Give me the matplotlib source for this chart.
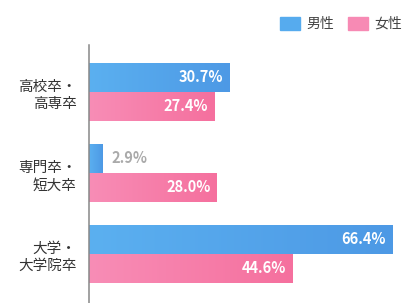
import matplotlib
matplotlib.use('Agg')
import matplotlib.pyplot as plt
import numpy as np
from matplotlib.colors import LinearSegmentedColormap
from matplotlib.patches import Rectangle

plt.rcParams['font.family'] = ['Noto Sans CJK JP', 'DejaVu Sans']

# data
categories = ['高校卒・\n高専卒', '専門卒・\n短大卒', '大学・\n大学院卒']
male = [30.7, 2.9, 66.4]
female = [27.4, 28.0, 44.6]
series_names = ['男性', '女性']

blue_cmap = LinearSegmentedColormap.from_list('b', ['#5BB0F0', '#4D99E5'])
pink_cmap = LinearSegmentedColormap.from_list('p', ['#F88DB6', '#F5709E'])

fig = plt.figure(figsize=(4.19, 3.03), dpi=100)
ax = fig.add_axes([89 / 419, 0, 330 / 419, 258 / 303])

h = 0.358
y = np.arange(len(categories))


def gradBars(ax, ys, vals, cmap):
	"""横向渐变条"""
	bars = ax.barh(ys, vals, height=h, color='none', edgecolor='none')
	grad = np.linspace(0, 1, 256).reshape(1, -1)
	for b in bars:
		x0, y0 = b.get_x(), b.get_y()
		w, hh = b.get_width(), b.get_height()
		im = ax.imshow(grad, cmap=cmap, aspect='auto',
			extent=[x0, x0 + w, y0 + hh, y0], zorder=2)
		im.set_clip_path(b)
	return bars


bm = gradBars(ax, y - h / 2, male, blue_cmap)
bf = gradBars(ax, y + h / 2, female, pink_cmap)

ax.set_xlim(0, 72.2)
ax.set_ylim(2.605, -0.58)

# value labels
for bars, vals in [(bm, male), (bf, female)]:
	for b, v in zip(bars, vals):
		cy = b.get_y() + b.get_height() / 2
		if v < 10:
			ax.annotate(f'{v:.1f}%', (v, cy), xytext=(6.5, 0), textcoords='offset points',
				ha='left', va='center', color='#AAAAAA', fontsize=10.5, fontweight='bold', zorder=3)
		else:
			ax.annotate(f'{v:.1f}%', (v, cy), xytext=(-4.5, 0), textcoords='offset points',
				ha='right', va='center', color='white', fontsize=10.5, fontweight='bold', zorder=3)

ax.set_yticks(y)
ax.set_yticklabels(categories, fontsize=10.5, color='#333333', linespacing=1.35, ha='right')
ax.tick_params(axis='y', length=0, pad=9)
ax.set_xticks([])
for s in ['top', 'right', 'bottom']:
	ax.spines[s].set_visible(False)
ax.spines['left'].set_color('#888888')
ax.spines['left'].set_linewidth(1.1)
ax.spines['left'].set_zorder(4)

# legend
colors = ['#56ABEE', '#F78AB4']
lx = [280, 348]
for name, c, x in zip(series_names, colors, lx):
	fig.patches.append(Rectangle((x / 419, 1 - 30 / 303), 20 / 419, 13 / 303,
		transform=fig.transFigure, color=c, figure=fig))
	fig.text((x + 26) / 419, 1 - 23.5 / 303, name, fontsize=10, color='#444444',
		va='center', ha='left')

fig.savefig('out.png', dpi=100)
